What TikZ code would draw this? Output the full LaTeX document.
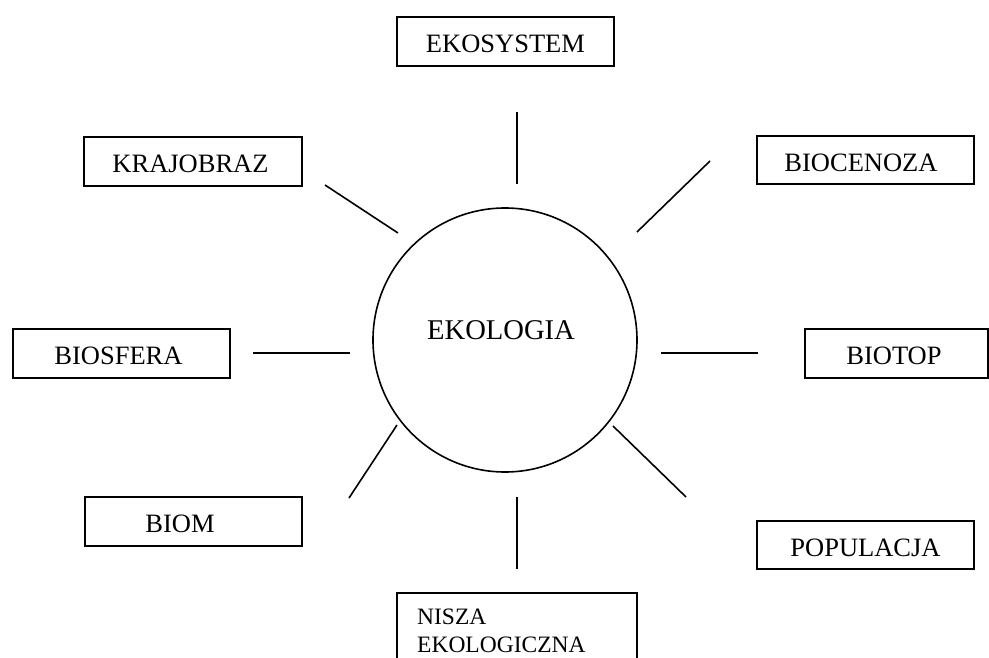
\documentclass[tikz,border=0pt]{standalone}
\usepackage{fontspec}
\setmainfont{Liberation Serif}
\newcommand{\lblfont}{\fontsize{26.5}{30}\selectfont}
\newcommand{\bigfont}{\fontsize{28.6}{32}\selectfont}
\newcommand{\smallfont}{\fontsize{23.5}{28}\selectfont}
\tikzset{
  box/.style={draw, rectangle, line width=1.6pt, inner sep=0pt,
    minimum width=217pt, minimum height=49pt,
    text height=22.5pt, text depth=0pt, font=\lblfont},
  conn/.style={line width=1.6pt},
}
\begin{document}
\begin{tikzpicture}[x=1pt,y=-1pt]
\useasboundingbox (0,0) rectangle (989,658);
\clip (0,0) rectangle (989,658);
% central circle
\node[draw, circle, line width=1.6pt, inner sep=0pt, minimum size=264pt,
      text height=19pt, text depth=20pt, font=\bigfont] (eko) at (505,340) {EKOLOGIA\hspace*{8pt}};
% boxes
\node[box] (ekosystem) at (505.5,41.5) {EKOSYSTEM};
\node[box, minimum width=218pt] (krajobraz) at (193,161.5) {KRAJOBRAZ\hspace*{5pt}};
\node[box, minimum height=48pt] (biocenoza) at (865.5,160) {BIOCENOZA\hspace*{9pt}};
\node[box] (biosfera) at (121.5,353.5) {BIOSFERA\hspace*{6pt}};
\node[box, minimum width=183pt] (biotop) at (896.5,353.5) {BIOTOP\hspace*{5pt}};
\node[box] (biom) at (193.5,521.5) {BIOM\hspace*{27pt}};
\node[box, minimum height=48pt] (populacja) at (865.5,545) {POPULACJA};
\node[draw, rectangle, line width=1.6pt, inner sep=0pt, minimum width=240pt,
      minimum height=100pt, anchor=north] (nisza) at (517,592) {};
\node[anchor=north west, inner sep=0pt, align=left, font=\smallfont] (niszatxt) at (417,609) {NISZA\\EKOLOGICZNA};
% connector end points
\coordinate (t1) at (517,112); \coordinate (t2) at (517,184);
\coordinate (k1) at (325,185); \coordinate (k2) at (398,233);
\coordinate (c1) at (710,161); \coordinate (c2) at (637,232);
\coordinate (s1) at (253,353); \coordinate (s2) at (350,353);
\coordinate (p1) at (661,353); \coordinate (p2) at (758,353);
\coordinate (m1) at (397,425); \coordinate (m2) at (349,498);
\coordinate (u1) at (613,426); \coordinate (u2) at (686,497);
\coordinate (n1) at (517,497); \coordinate (n2) at (517,569);
\draw[conn] (t1) -- (t2);
\draw[conn] (k1) -- (k2);
\draw[conn] (c1) -- (c2);
\draw[conn] (s1) -- (s2);
\draw[conn] (p1) -- (p2);
\draw[conn] (m1) -- (m2);
\draw[conn] (u1) -- (u2);
\draw[conn] (n1) -- (n2);
\end{tikzpicture}
\end{document}
